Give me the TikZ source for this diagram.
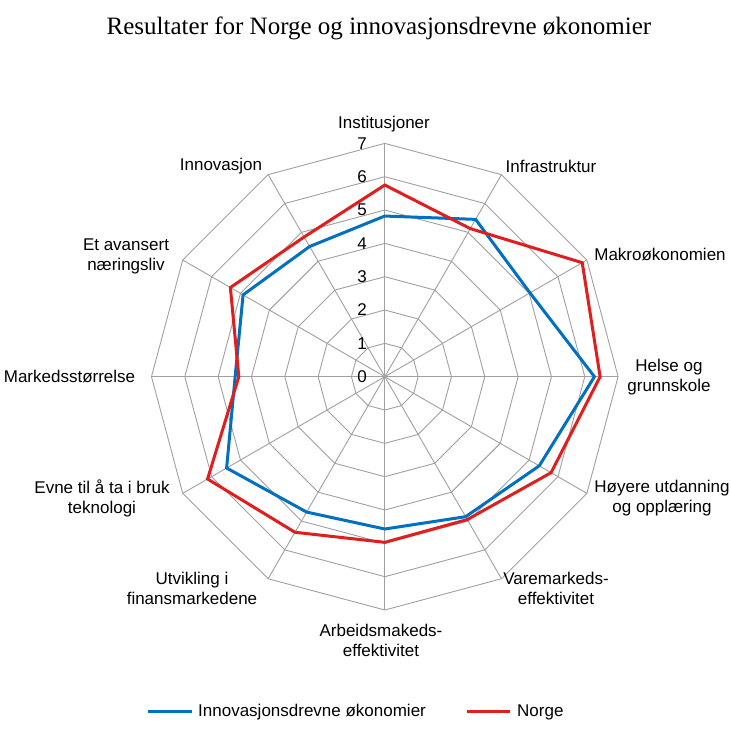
\documentclass[tikz,border=0pt]{standalone}
\usepackage{fontspec}
\setmainfont{Liberation Sans}
\newfontfamily\titlefont{Liberation Serif}
\definecolor{gridgray}{RGB}{160,160,160}
\definecolor{serblue}{RGB}{0,112,192}
\definecolor{serred}{RGB}{224,30,30}
\begin{document}
\begin{tikzpicture}[x=1pt,y=1pt,
  gridline/.style={draw=gridgray,line width=0.9pt},
  series/.style={line width=3pt,line join=miter},
  axlabel/.style={inner sep=0pt,align=center,font=\fontsize{17}{20}\selectfont},
  ticklabel/.style={inner sep=0pt,anchor=east,font=\fontsize{17}{20}\selectfont}]
\useasboundingbox (0,0) rectangle (730,738);
\fill[white] (0,0) rectangle (730,738);
\node[inner sep=0pt,font=\titlefont\fontsize{25}{30}\selectfont] (title) at (379,710) {Resultater for Norge og innovasjonsdrevne økonomier};
\begin{scope}[shift={(384.8,361.3)}]
\def\u{33.33}
\coordinate (c) at (0,0);
% rings
\foreach \k in {1,...,7}{
  \draw[gridline] (90:\k*\u) \foreach \a in {60,30,...,-240}{ -- (\a:\k*\u)} -- cycle;
}
% spokes
\foreach \a in {90,60,...,-240}{
  \draw[gridline] (c) -- (\a:7*\u);
}
% tick labels
\foreach \k in {0,...,7}{
  \node[ticklabel] (t\k) at (-17.8,\k*\u) {\k};
}
% data
\def\blue{4.82/90,5.45/60,5.03/30,6.29/0,5.35/-30,4.85/-60,4.57/-90,4.69/-120,5.48/-150,4.49/-180,4.91/-210,4.51/-240}
\def\red{5.75/90,5.13/60,6.84/30,6.46/0,5.76/-30,4.95/-60,4.97/-90,5.39/-120,6.14/-150,4.38/-180,5.35/-210,4.84/-240}
\foreach \v/\a [count=\i] in \blue { \coordinate (b\i) at (\a:\v*\u); }
\foreach \v/\a [count=\i] in \red { \coordinate (r\i) at (\a:\v*\u); }
\draw[series,serblue] (b1) -- (b2) -- (b3) -- (b4) -- (b5) -- (b6) -- (b7) -- (b8) -- (b9) -- (b10) -- (b11) -- (b12) -- cycle;
\draw[series,serred] (r1) -- (r2) -- (r3) -- (r4) -- (r5) -- (r6) -- (r7) -- (r8) -- (r9) -- (r10) -- (r11) -- (r12) -- cycle;
\end{scope}
% axis labels
\node[axlabel] (l1) at (384,614) {Institusjoner};
\node[axlabel] (l2) at (551,572) {Infrastruktur};
\node[axlabel] (l3) at (660,483) {Makroøkonomien};
\node[axlabel] (l4) at (669,361) {Helse og\\grunnskole};
\node[axlabel] (l5) at (662,240) {Høyere utdanning\\og opplæring};
\node[axlabel] (l6) at (556,150) {Varemarkeds-\\effektivitet};
\node[axlabel] (l7) at (381,98) {Arbeidsmakeds-\\effektivitet};
\node[axlabel] (l8) at (192,150) {Utvikling i\\finansmarkedene};
\node[axlabel] (l9) at (102,240) {Evne til å ta i bruk\\teknologi};
\node[axlabel] (l10) at (69.5,361) {Markedsstørrelse};
\node[axlabel] (l11) at (126,482) {Et avansert\\næringsliv};
\node[axlabel] (l12) at (221,572) {Innovasjon};
% legend
\coordinate (lb1) at (148,26);
\coordinate (lb2) at (192,26);
\coordinate (lr1) at (467,26);
\coordinate (lr2) at (510,26);
\draw[serblue,line width=3pt] (lb1) -- (lb2);
\draw[serred,line width=3pt] (lr1) -- (lr2);
\node[axlabel,anchor=west] (leg1) at (198,26) {Innovasjonsdrevne økonomier};
\node[axlabel,anchor=west] (leg2) at (517,26) {Norge};
\end{tikzpicture}
\end{document}
